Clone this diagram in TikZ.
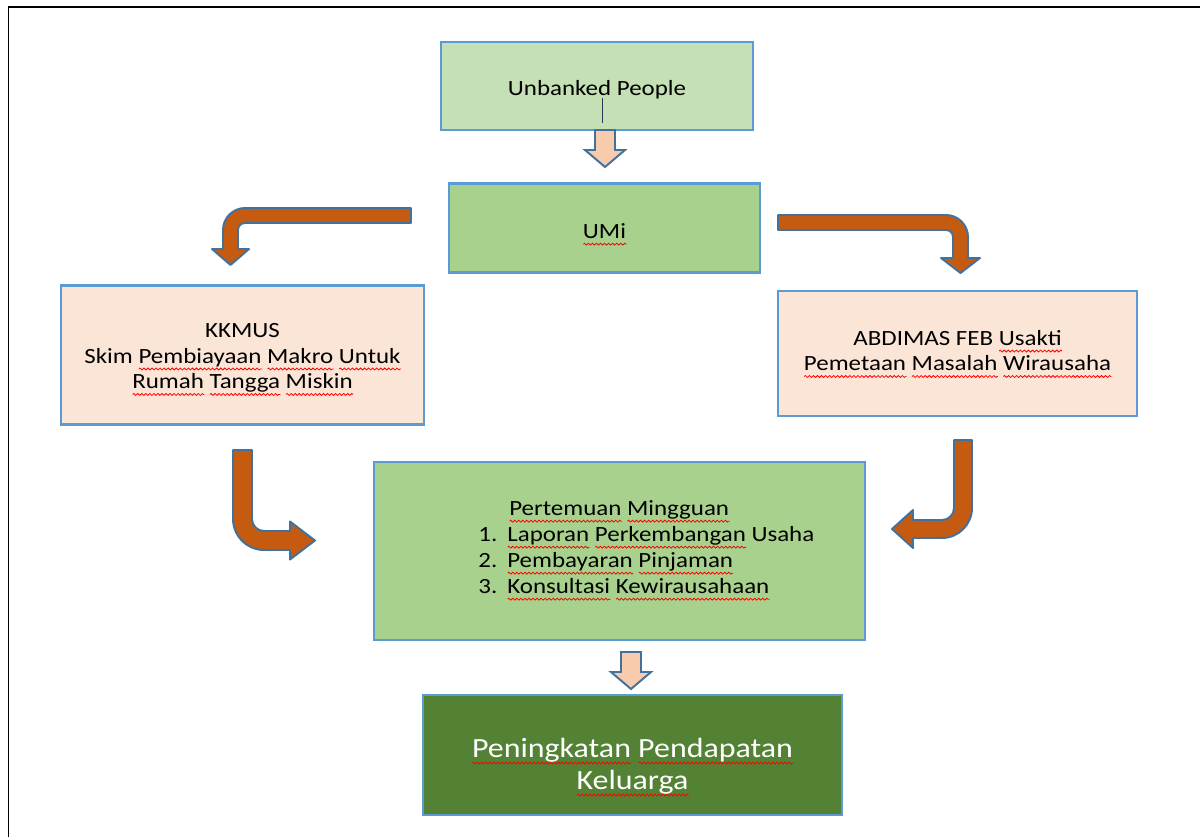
\documentclass[tikz,border=0pt]{standalone}
\usepackage{fontspec}
\setmainfont{Carlito}[FakeStretch=1.15]
\usetikzlibrary{decorations.pathmorphing}
\newsavebox\sqbox
\newlength\sqlen
\newcommand\sq[1]{\sbox\sqbox{#1}\setlength\sqlen{\wd\sqbox}%
  \makebox[0pt][l]{\raisebox{-3.3pt}[0pt][0pt]{\tikz[x=1pt,y=1pt,baseline=0pt]
    \draw[red, line width=0.45pt, decorate,
      decoration={zigzag, segment length=2.3pt, amplitude=0.55pt}] (0,0) -- (\the\sqlen,0);}}%
  \usebox\sqbox}
\definecolor{boxblue}{HTML}{5B9BD5}
\definecolor{ltgreen}{HTML}{C5E0B4}
\definecolor{midgreen}{HTML}{A9D18E}
\definecolor{peach}{HTML}{FBE5D6}
\definecolor{dkgreen}{HTML}{548235}
\definecolor{arrorange}{HTML}{C55A11}
\definecolor{arrline}{HTML}{41719C}
\definecolor{arrpeach}{HTML}{F8CBAD}
\begin{document}
\begin{tikzpicture}[x=0.02cm,y=-0.02cm,
  box/.style={draw=boxblue, line width=1.4pt, inner sep=0pt},
  txt/.style={inner sep=0pt, align=center, font=\fontsize{12.35}{14.5}\selectfont},
  bent/.style={fill=arrorange, draw=arrline, line width=1.1pt, line join=round},
  hollow/.style={fill=arrpeach, draw=arrline, line width=1.1pt, line join=miter}]
\useasboundingbox (0,0) rectangle (1200,836);
% frame
\draw[line width=1pt, black] (8.5,840) -- (8.5,7) -- (1205,7);

% boxes
\node[box, fill=ltgreen, minimum width=6.24cm, minimum height=1.76cm] (unb) at (597,86) {};
\node[box, fill=midgreen, minimum width=6.22cm, minimum height=1.78cm] (umi) at (604.5,228) {};
\node[box, fill=peach, minimum width=7.26cm, minimum height=2.78cm] (kk) at (242.5,355) {};
\node[box, fill=peach, minimum width=7.18cm, minimum height=2.5cm] (ab) at (957.5,353.5) {};
\node[box, fill=midgreen, minimum width=9.82cm, minimum height=3.56cm] (pm) at (619.5,551) {};
\node[box, fill=dkgreen, minimum width=8.38cm, minimum height=2.4cm] (pk) at (632.5,755) {};

% texts
\node[txt] (unbt) at (597,90) {Unbanked People};
\node[txt] (umit) at (604.5,231) {\sq{UMi}};
\node[txt] (kkt) at (242.5,358)
  {KKMUS\\Skim \sq{Pembiayaan} \sq{Makro} \sq{Untuk}\\\sq{Rumah} \sq{Tangga} \sq{Miskin}};
\node[txt] (abt) at (957.5,350.5)
  {ABDIMAS FEB \sq{Usakti}\\\sq{Pemetaan} \sq{Masalah} \sq{Wirausaha}};
\node[txt, anchor=west, align=left, font=\fontsize{12.35}{14.8}\selectfont] (pmt) at (478,547)
  {\hspace*{17.6pt}\sq{Pertemuan} \sq{Mingguan}\\
   \makebox[16.5pt][l]{1.}\sq{Laporan} \sq{Perkembangan} Usaha\\
   \makebox[16.5pt][l]{2.}\sq{Pembayaran} \sq{Pinjaman}\\
   \makebox[16.5pt][l]{3.}\sq{Konsultasi} \sq{Kewirausahaan}};
\node[txt, text=white, font=\fontsize{15.8}{18.2}\selectfont] (pkt) at (632.5,766)
  {\sq{Peningkatan} \sq{Pendapatan}\\\sq{Keluarga}};

% small cursor line in the first box
\coordinate (cur1) at (602.5,98);
\coordinate (cur2) at (602.5,123);
\draw[line width=0.6pt, black!75!blue!60!gray] (cur1) -- (cur2);

% hollow down arrows
\draw[hollow] (595,130) -- (595,150) -- (585,150) -- (605,167) -- (625,150) -- (615,150) -- (615,130) -- cycle;
\draw[hollow] (621,652) -- (621,672) -- (611,672) -- (631,689) -- (651,672) -- (641,672) -- (641,652) -- cycle;

% bent arrow: UMi to KKMUS
\draw[bent] (411,208) -- (245,208) .. controls (232.9,208) and (223,217.9) .. (223,230)
  -- (223,249) -- (212,249) -- (230.5,265) -- (249,249) -- (238,249) -- (238,230)
  .. controls (238,226.1) and (241.1,223) .. (245,223) -- (411,223) -- cycle;
% bent arrow: UMi to ABDIMAS
\draw[bent] (778,215) -- (946,215) .. controls (958.1,215) and (968,224.9) .. (968,237)
  -- (968,258) -- (980,258) -- (960.5,273) -- (941,258) -- (953,258) -- (953,237)
  .. controls (953,233.1) and (949.9,230) .. (946,230) -- (778,230) -- cycle;
% bent arrow: KKMUS to Pertemuan
\draw[bent] (233,450) -- (233,519) .. controls (233,536) and (247,550) .. (264,550)
  -- (290,550) -- (290,559.5) -- (315,540.5) -- (290,521.5) -- (290,531) -- (264,531)
  .. controls (257.4,531) and (252,525.6) .. (252,519) -- (252,450) -- cycle;
% bent arrow: ABDIMAS to Pertemuan
\draw[bent] (972,440) -- (972,508) .. controls (972,524.5) and (958.5,538) .. (942,538)
  -- (913,538) -- (913,548) -- (892,529) -- (913,510) -- (913,520) -- (942,520)
  .. controls (948.6,520) and (954,514.6) .. (954,508) -- (954,440) -- cycle;
\end{tikzpicture}
\end{document}
